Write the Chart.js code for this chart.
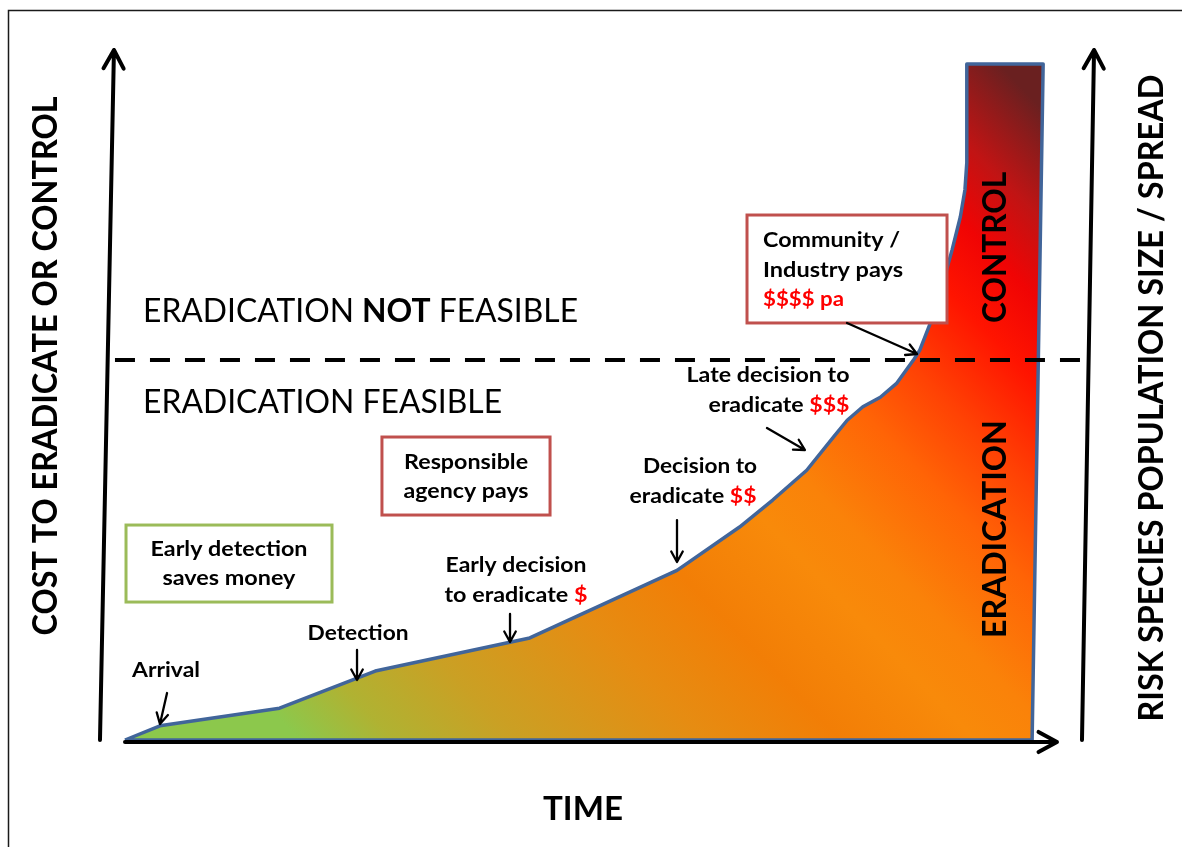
<!DOCTYPE html>
<html>
<head>
<meta charset="utf-8">
<script src="https://cdn.jsdelivr.net/npm/chart.js@4.4.1/dist/chart.umd.min.js"></script>
<style>
  html, body { margin: 0; padding: 0; background: #fff; }
  #wrap { position: relative; width: 1182px; height: 847px; }
</style>
</head>
<body>
<div id="wrap"><canvas id="chart"></canvas></div>
<script>
// outline of the cost / spread area: time (0-100) against cost (0-100)
const timeValues = [0, 3.8, 16.8, 27.2, 44.0, 60.0, 66.8, 70.4, 74.1, 77.0, 78.5, 80.2, 82.1, 83.9,
                    85.7, 86.4, 87.8, 88.9, 89.9, 90.8, 91.3, 91.5, 91.5, 99.8, 98.6, 0];
const costValues = [0, 2.1, 4.7, 10.2, 15.1, 25.1, 31.5, 35.5, 39.9, 44.8, 47.3, 49.3, 50.7, 52.8,
                    56.2, 57.7, 62.6, 67.6, 72.5, 77.4, 81.4, 85.4, 100, 100, 0, 0];
// cost level above which eradication is no longer feasible
const feasibleLimit = 56.2;

const FONT = 'Lato, "Open Sans", sans-serif';
const RED = '#ff0000';

// text lines, placed in data units (time, cost)
const labels = [
  { x: 1.96, y: 61.83, align: 'left', size: 32, w: 435, parts: [['ERADICATION ', '#000', 400], ['NOT', '#000', 700], [' FEASIBLE', '#000', 400]] },
  { x: 1.96, y: 48.37, align: 'left', size: 32, w: 359, parts: [['ERADICATION FEASIBLE', '#000', 400]] },
  { x: 11.3, y: 27.22, w: 157, parts: [['Early detection']] },
  { x: 11.3, y: 22.93, w: 133, parts: [['saves money']] },
  { x: 37.07, y: 40.09, w: 124, parts: [['Responsible']] },
  { x: 37.07, y: 35.80, w: 125, parts: [['agency pays']] },
  { x: 42.5, y: 24.85, w: 141, parts: [['Early decision']] },
  { x: 42.5, y: 20.41, w: 143, parts: [['to eradicate '], ['$', RED]] },
  { x: 62.5, y: 39.50, w: 114, parts: [['Decision to']] },
  { x: 61.74, y: 35.06, w: 127, parts: [['eradicate '], ['$$', RED]] },
  { x: 69.89, y: 52.96, w: 163, parts: [['Late decision to']] },
  { x: 71.09, y: 48.52, w: 141, parts: [['eradicate '], ['$$$', RED]] },
  { x: 69.35, y: 72.93, align: 'left', w: 137, parts: [['Community /']] },
  { x: 69.35, y: 68.49, align: 'left', w: 140, parts: [['Industry pays']] },
  { x: 69.35, y: 64.20, align: 'left', w: 81, parts: [['$$$$ pa', RED]] },
  { x: 4.46, y: 9.32, w: 68, parts: [['Arrival']] },
  { x: 25.33, y: 14.79, w: 101, parts: [['Detection']] },
  { x: 49.78, y: -11.83, size: 32, w: 80, parts: [['TIME']] },
  { x: 94.46, y: 72.86, size: 33, w: 151, rot: true, parts: [['CONTROL']] },
  { x: 94.46, y: 31.21, size: 33, w: 218, rot: true, parts: [['ERADICATION']] },
  { x: -8.70, y: 55.33, size: 34, w: 539, rot: true, parts: [['COST TO ERADICATE OR CONTROL']] },
  { x: 111.52, y: 50.59, size: 34, w: 647, rot: true, parts: [['RISK SPECIES POPULATION SIZE / SPREAD']] }
];

const boxes = [
  { x0: 0.11, y0: 31.8, x1: 22.5, y1: 20.41, color: '#9bbb59' },
  { x0: 27.93, y0: 44.82, x1: 46.2, y1: 33.28, color: '#c0504d' },
  { x0: 67.61, y0: 77.66, x1: 89.35, y1: 61.69, color: '#c0504d' }
];

// pointer arrows: from -> to
const pointers = [
  [4.57, 6.95, 3.80, 2.37],
  [25.22, 13.31, 25.22, 8.88],
  [41.85, 18.64, 41.85, 14.50],
  [60.0, 32.54, 60.0, 26.33],
  [69.78, 46.15, 73.91, 42.90],
  [78.48, 61.69, 86.09, 57.10]
];

// axis arrows
const axes = [
  [0, -0.3, 101.3, -0.3],
  [-2.72, 0, -1.20, 102.07],
  [104.02, 0, 105.33, 102.07]
];

const points = timeValues.map((t, i) => ({ x: t, y: costValues[i] }));

function drawText(ctx, lab, px, py) {
  const size = lab.size || 21;
  ctx.save();
  let nat = 0;
  lab.parts.forEach(p => {
    ctx.font = `${p[2] || 700} ${size}px ${FONT}`;
    nat += ctx.measureText(p[0]).width;
  });
  const sx = lab.w ? lab.w / nat : 1;
  ctx.translate(px, py);
  let yOff = 0;
  if (lab.rot) {
    ctx.rotate(-Math.PI / 2);
    yOff = size * 0.72 / 2;
  }
  ctx.scale(sx, 1);
  let start = lab.align === 'left' ? 0 : -nat / 2;
  ctx.textBaseline = 'alphabetic';
  lab.parts.forEach(p => {
    ctx.font = `${p[2] || 700} ${size}px ${FONT}`;
    ctx.fillStyle = p[1] || '#000';
    ctx.fillText(p[0], start, yOff);
    start += ctx.measureText(p[0]).width;
  });
  ctx.restore();
}

function arrow(ctx, x0, y0, x1, y1, head, width) {
  const a = Math.atan2(y1 - y0, x1 - x0);
  ctx.save();
  ctx.lineWidth = width;
  ctx.lineCap = 'round';
  ctx.lineJoin = 'round';
  ctx.strokeStyle = '#000';
  ctx.beginPath();
  ctx.moveTo(x0, y0);
  ctx.lineTo(x1, y1);
  ctx.moveTo(x1 - head * Math.cos(a - 0.5), y1 - head * Math.sin(a - 0.5));
  ctx.lineTo(x1, y1);
  ctx.lineTo(x1 - head * Math.cos(a + 0.5), y1 - head * Math.sin(a + 0.5));
  ctx.stroke();
  ctx.restore();
}

const decorations = {
  id: 'decorations',
  afterDraw(chart) {
    const ctx = chart.ctx;
    const xs = chart.scales.x, ys = chart.scales.y;
    const X = v => xs.getPixelForValue(v), Y = v => ys.getPixelForValue(v);

    // frame
    ctx.save();
    ctx.strokeStyle = '#1a1a1a';
    ctx.lineWidth = 1.5;
    ctx.beginPath();
    ctx.moveTo(8.5, chart.height);
    ctx.lineTo(8.5, 10.5);
    ctx.lineTo(chart.width, 10.5);
    ctx.stroke();
    ctx.restore();

    // feasibility line
    ctx.save();
    ctx.strokeStyle = '#000';
    ctx.lineWidth = 4;
    ctx.setLineDash([20, 15]);
    ctx.beginPath();
    ctx.moveTo(X(-1.09), Y(feasibleLimit));
    ctx.lineTo(X(104.0), Y(feasibleLimit));
    ctx.stroke();
    ctx.restore();

    axes.forEach(a => arrow(ctx, X(a[0]), Y(a[1]), X(a[2]), Y(a[3]), 21, 4));

    boxes.forEach(b => {
      ctx.save();
      ctx.fillStyle = '#fff';
      ctx.strokeStyle = b.color;
      ctx.lineWidth = 3;
      const x = X(b.x0), y = Y(b.y0), w = X(b.x1) - x, h = Y(b.y1) - y;
      ctx.fillRect(x, y, w, h);
      ctx.strokeRect(x, y, w, h);
      ctx.restore();
    });

    pointers.forEach(p => arrow(ctx, X(p[0]), Y(p[1]), X(p[2]), Y(p[3]), 12, 2.3));

    labels.forEach(l => drawText(ctx, l, X(l.x), Y(l.y)));
  }
};

new Chart(document.getElementById('chart'), {
  type: 'line',
  data: {
    datasets: [{
      data: points,
      fill: 'shape',
      borderColor: '#41659a',
      borderWidth: 3.5,
      borderJoinStyle: 'round',
      pointRadius: 0,
      tension: 0,
      clip: false,
      backgroundColor: (c) => {
        const a = c.chart.chartArea;
        if (!a) return '#f88a0a';
        const w = a.right - a.left;
        const g = c.chart.ctx.createLinearGradient(a.left + w * 0.19, a.bottom, a.left + w * 0.95, a.top);
        g.addColorStop(0.0, '#8cc84c');
        g.addColorStop(0.07, '#b0b232');
        g.addColorStop(0.16, '#caa024');
        g.addColorStop(0.3, '#e68c12');
        g.addColorStop(0.4, '#f27e06');
        g.addColorStop(0.5, '#f88a0a');
        g.addColorStop(0.56, '#fa8209');
        g.addColorStop(0.65, '#ff6406');
        g.addColorStop(0.72, '#ff4204');
        g.addColorStop(0.8, '#ff1400');
        g.addColorStop(0.86, '#f00404');
        g.addColorStop(0.92, '#c01414');
        g.addColorStop(1.0, '#6a2020');
        return g;
      }
    }]
  },
  options: {
    responsive: true,
    maintainAspectRatio: false,
    animation: false,
    layout: { padding: { left: 125, right: 137, top: 64, bottom: 107 } },
    plugins: { legend: { display: false }, tooltip: { enabled: false } },
    scales: {
      x: { type: 'linear', min: 0, max: 100, display: false },
      y: { type: 'linear', min: 0, max: 100, display: false }
    }
  },
  plugins: [decorations]
});
</script>
</body>
</html>
